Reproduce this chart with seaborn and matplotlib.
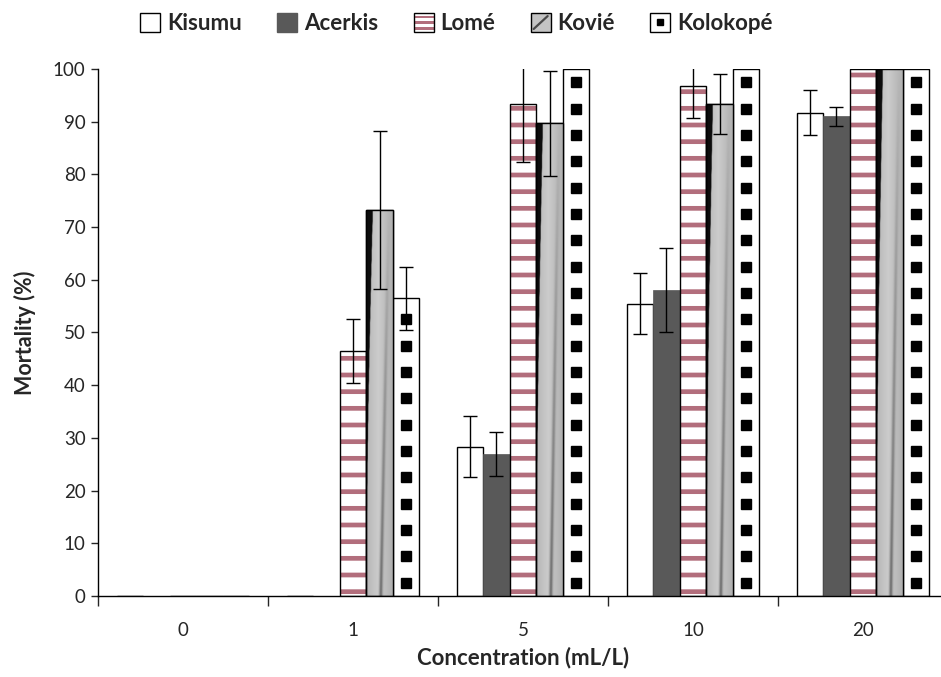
"""Mortality by concentration for five mosquito strains."""

import matplotlib
matplotlib.use("Agg")
import matplotlib.pyplot as plt
import numpy as np
import pandas as pd
import seaborn as sns
from matplotlib.legend_handler import HandlerBase, HandlerTuple
from matplotlib.lines import Line2D
from matplotlib.patches import Patch, Rectangle

# Data
concentrations = ["0", "1", "5", "10", "20"]
strains = ["Kisumu", "Acerkis", "Lomé", "Kovié", "Kolokopé"]
kisumu = [0, 0, 28.3, 55.5, 91.7]
acerkis = [0, 0, 27.0, 58.0, 91.0]
lome = [0, 46.5, 93.3, 96.7, 100]
kovie = [0, 73.3, 89.7, 93.3, 100]
kolokope = [0, 56.5, 100, 100, 100]
kisumu_err = [0, 0, 5.8, 5.8, 4.3]
acerkis_err = [0, 0, 4.2, 8.0, 1.8]
lome_err = [0, 6.0, 11.0, 6.0, 0]
kovie_err = [0, 15.0, 10.0, 5.7, 0]
kolokope_err = [0, 6.0, 0, 0, 0]

means = [kisumu, acerkis, lome, kovie, kolokope]
errs = [kisumu_err, acerkis_err, lome_err, kovie_err, kolokope_err]

df = pd.DataFrame(
    [
        {"conc": c, "strain": s, "mortality": means[i][j], "err": errs[i][j]}
        for i, s in enumerate(strains)
        for j, c in enumerate(concentrations)
    ]
)

sns.set_style("white")
plt.rcParams["font.family"] = ["Lato", "DejaVu Sans"]
plt.rcParams["hatch.linewidth"] = 3.4

stripe_color = "#b26e7c"


class StripeHandler(HandlerBase):
    """Legend box with a few thin horizontal stripes."""

    def create_artists(self, legend, orig_handle, xdescent, ydescent, width, height, fontsize, trans):
        artists = [Rectangle((-xdescent, -ydescent), width, height, fc="white", ec="none", transform=trans)]
        for k in range(3):
            y = -ydescent + height * (0.12 + 0.3 * k)
            artists.append(Rectangle((-xdescent, y), width, height * 0.14, fc=stripe_color, ec="none", transform=trans))
        artists.append(Rectangle((-xdescent, -ydescent), width, height, fill=False, ec="black", lw=1, transform=trans))
        return artists


class DiagonalHandler(HandlerBase):
    """Legend box in light gray with a dark diagonal streak."""

    def create_artists(self, legend, orig_handle, xdescent, ydescent, width, height, fontsize, trans):
        x0, y0 = -xdescent, -ydescent
        box = Rectangle((x0, y0), width, height, fc="#c4c4c4", ec="none", transform=trans)
        streak = Line2D([x0 + 0.15 * width, x0 + 0.85 * width], [y0 + 0.15 * height, y0 + 0.85 * height],
                        color="#4a4a4a", lw=1.6, transform=trans)
        edge = Rectangle((x0, y0), width, height, fill=False, ec="black", lw=1, transform=trans)
        return [box, streak, edge]


fig = plt.figure(figsize=(9.41, 6.77), dpi=100)
ax = fig.add_axes([98 / 941, 1 - 596 / 677, 850 / 941, 527 / 677])

sns.barplot(
    data=df,
    x="conc",
    y="mortality",
    hue="strain",
    order=concentrations,
    hue_order=strains,
    errorbar=None,
    width=0.78,
    gap=0,
    legend=False,
    ax=ax,
)


def kovie_texture(n=80):
    gx, gy = np.meshgrid(np.linspace(0, 1, n), np.linspace(0, 1, n))
    # light gray body with soft shading
    level = 0.80 - 0.10 * np.abs(gx - 0.45) * 2
    # darker diagonal streak toward the right
    streak = np.exp(-((gx - (0.55 + 0.3 * gy)) ** 2) / 0.004)
    level = level - 0.35 * streak * (1 - gy)
    # black wedge at the top left
    level = np.where(gx < 0.25 * gy ** 1.5, 0.05, level)
    level = np.clip(level, 0, 1)
    return np.dstack([level, level, level])


bar_containers = list(ax.containers)
for i, container in enumerate(bar_containers):
    for j, bar in enumerate(container):
        x0, w, h = bar.get_x(), bar.get_width(), bar.get_height()
        if i == 0:
            bar.set_facecolor("white")
            bar.set_edgecolor("black")
            bar.set_linewidth(1.0)
        elif i == 1:
            bar.set_facecolor("#595959")
            bar.set_edgecolor("#595959")
            bar.set_linewidth(0.5)
        elif i == 2:
            bar.set_facecolor("white")
            bar.set_edgecolor(stripe_color)
            bar.set_hatch("-")
            bar.set_linewidth(0)
            ax.add_patch(Rectangle((x0, 0), w, h, fill=False, ec="black", lw=1.0, zorder=bar.get_zorder() + 0.1))
        elif i == 3:
            bar.set_facecolor("#c8c8c8")
            bar.set_edgecolor("black")
            bar.set_linewidth(1.0)
            if h > 0:
                im = ax.imshow(
                    kovie_texture(),
                    extent=[x0, x0 + w, 0, h],
                    origin="lower",
                    aspect="auto",
                    interpolation="bilinear",
                    zorder=bar.get_zorder() + 0.05,
                )
                im.set_clip_path(bar)
                ax.add_patch(Rectangle((x0, 0), w, h, fill=False, ec="black", lw=1.0, zorder=bar.get_zorder() + 0.1))
        else:
            bar.set_facecolor("white")
            bar.set_edgecolor("black")
            bar.set_linewidth(1.0)
            if h > 0:
                sq_y = np.arange(2.5, h, 5.0)
                (pts,) = ax.plot(
                    np.full(len(sq_y), x0 + w / 2),
                    sq_y,
                    ls="none",
                    marker="s",
                    ms=7.5,
                    color="black",
                    zorder=bar.get_zorder() + 0.05,
                )
                pts.set_clip_path(bar)
        if errs[i][j] > 0:
            ax.errorbar(
                x0 + w / 2,
                h,
                yerr=errs[i][j],
                fmt="none",
                ecolor="black",
                elinewidth=1.0,
                capsize=5,
                capthick=1.0,
                zorder=5,
            )

# Axes styling
ax.set_xlim(-0.5, 4.5)
ax.set_ylim(0, 100)
ax.set_yticks(np.arange(0, 101, 10))
ax.tick_params(axis="y", labelsize=13.5, length=5, width=1, direction="out", left=True, pad=4)
ax.set_xticks(np.arange(-0.5, 4.6, 1.0))
ax.set_xticklabels([])
ax.tick_params(axis="x", which="major", length=7, width=1, direction="out", bottom=True)
ax.set_xticks(np.arange(len(concentrations)), minor=True)
ax.set_xticklabels(concentrations, minor=True)
ax.tick_params(axis="x", which="minor", length=0, labelsize=13.5, pad=19)
for side in ["top", "right"]:
    ax.spines[side].set_visible(False)
for side in ["left", "bottom"]:
    ax.spines[side].set_color("black")
    ax.spines[side].set_linewidth(1.0)
ax.grid(False)

ax.set_ylabel("Mortality (%)", fontsize=15.5, fontweight="bold", labelpad=12)
ax.set_xlabel("Concentration (mL/L)", fontsize=16, fontweight="bold", labelpad=5)

# Legend
lome_handle = Patch(facecolor="white", edgecolor="black")
kovie_handle = Patch(facecolor="#c4c4c4", edgecolor="black")
handles = [
    Patch(facecolor="white", edgecolor="black", lw=1),
    Patch(facecolor="#595959", edgecolor="#595959"),
    lome_handle,
    kovie_handle,
    (Patch(facecolor="white", edgecolor="black", lw=1), Line2D([], [], ls="none", marker="s", ms=5, color="black")),
]
fig.legend(
    handles,
    strains,
    loc="center",
    bbox_to_anchor=(0.485, 0.965),
    ncol=5,
    frameon=False,
    handlelength=0.9,
    handleheight=0.9,
    handletextpad=0.3,
    columnspacing=1.6,
    prop={"weight": "bold", "size": 16},
    handler_map={
        tuple: HandlerTuple(ndivide=1, pad=0),
        lome_handle: StripeHandler(),
        kovie_handle: DiagonalHandler(),
    },
)

fig.savefig("out.png", dpi=100)
